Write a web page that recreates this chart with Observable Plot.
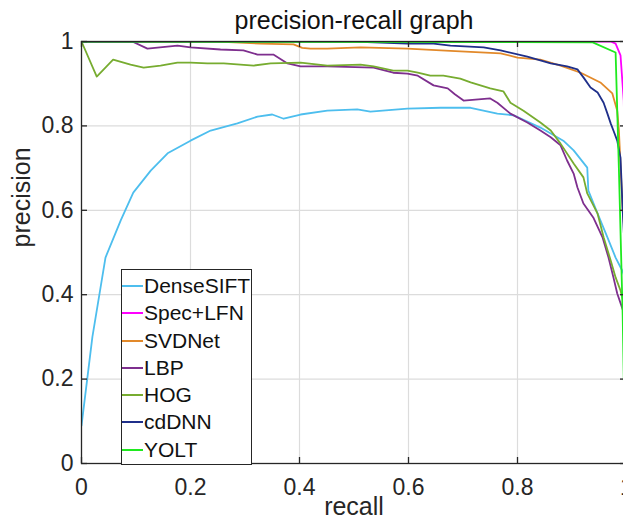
<!DOCTYPE html>
<html>
<head>
<meta charset="utf-8">
<script src="https://cdn.jsdelivr.net/npm/d3@7"></script>
<script src="https://cdn.jsdelivr.net/npm/@observablehq/plot@0.6"></script>
<style>
  body { margin: 0; background: #fff; }
  #wrap { position: relative; width: 623px; height: 519px; overflow: hidden; font-family: "Liberation Sans", Arial, sans-serif; }
  #legend { position: absolute; left: 121px; top: 269px; width: 129px; height: 192px; border: 1px solid #262626; background: #fff; padding-top: 2px; box-sizing: content-box; }
  #legend .row { height: 27.3px; line-height: 27.3px; font-size: 21px; color: #111; white-space: nowrap; }
  #legend .swatch { display: inline-block; width: 21px; height: 0; border-top: 2px solid; vertical-align: 6px; margin-right: 1px; }
</style>
</head>
<body>
<div id="wrap"><div id="chart"></div><div id="legend"></div></div>
<script>
// ---- data ----
const methods = ["DenseSIFT", "Spec+LFN", "SVDNet", "LBP", "HOG", "cdDNN", "YOLT"];
const colors  = ["#4DBEEE", "#FF00FF", "#E2892A", "#7E2F8E", "#77AC30", "#1F2F8A", "#1FEA1F"];

const denseR = [0, 0.02, 0.044, 0.072, 0.095, 0.127, 0.158, 0.2, 0.237, 0.286, 0.323, 0.35, 0.371, 0.402, 0.451, 0.506, 0.53, 0.598, 0.659, 0.714, 0.763, 0.793, 0.842, 0.884, 0.903, 0.928, 0.93, 0.947, 0.965, 0.98, 0.993, 1.0];
const denseP = [0.09, 0.30, 0.488, 0.576, 0.642, 0.694, 0.735, 0.765, 0.789, 0.806, 0.822, 0.827, 0.817, 0.827, 0.836, 0.839, 0.834, 0.841, 0.843, 0.843, 0.829, 0.825, 0.796, 0.765, 0.742, 0.701, 0.647, 0.592, 0.536, 0.488, 0.455, 0.43];

const specR = [0, 0.971, 0.98, 0.989, 0.995, 1.0];
const specP = [1, 1, 0.995, 0.967, 0.86, 0.5];

const svdR = [0, 0.25, 0.328, 0.389, 0.405, 0.42, 0.451, 0.512, 0.598, 0.677, 0.769, 0.80, 0.842, 0.879, 0.916, 0.952, 0.974, 0.983, 0.986, 0.99, 0.993, 1.0];
const svdP = [1, 1, 0.995, 0.993, 0.985, 0.983, 0.983, 0.986, 0.983, 0.978, 0.972, 0.962, 0.957, 0.943, 0.926, 0.903, 0.877, 0.836, 0.79, 0.68, 0.6, 0.5];

const lbpR = [0, 0.093, 0.121, 0.176, 0.2, 0.255, 0.297, 0.323, 0.352, 0.378, 0.402, 0.451, 0.536, 0.572, 0.598, 0.617, 0.646, 0.672, 0.685, 0.701, 0.75, 0.763, 0.787, 0.818, 0.842, 0.861, 0.879, 0.891, 0.903, 0.91, 0.921, 0.939, 0.956, 0.967, 0.976, 0.983, 0.993];
const lbpP = [1, 1, 0.983, 0.99, 0.986, 0.981, 0.979, 0.969, 0.969, 0.948, 0.941, 0.941, 0.938, 0.926, 0.924, 0.919, 0.896, 0.889, 0.875, 0.86, 0.865, 0.855, 0.829, 0.808, 0.789, 0.773, 0.754, 0.718, 0.687, 0.654, 0.616, 0.583, 0.536, 0.488, 0.441, 0.403, 0.365];

const hogR = [0, 0.028, 0.058, 0.09, 0.114, 0.145, 0.176, 0.2, 0.231, 0.261, 0.316, 0.347, 0.402, 0.451, 0.512, 0.536, 0.572, 0.598, 0.617, 0.64, 0.664, 0.695, 0.714, 0.75, 0.774, 0.787, 0.811, 0.842, 0.861, 0.879, 0.903, 0.921, 0.928, 0.947, 0.958, 0.971, 0.98, 0.989, 0.995];
const hogP = [1, 0.917, 0.957, 0.945, 0.938, 0.943, 0.95, 0.95, 0.948, 0.948, 0.943, 0.948, 0.95, 0.943, 0.945, 0.941, 0.931, 0.931, 0.926, 0.919, 0.919, 0.912, 0.903, 0.889, 0.882, 0.855, 0.836, 0.808, 0.789, 0.758, 0.711, 0.678, 0.64, 0.592, 0.536, 0.481, 0.441, 0.41, 0.38];

const cdR = [0, 0.5, 0.598, 0.646, 0.677, 0.738, 0.769, 0.818, 0.861, 0.891, 0.91, 0.921, 0.934, 0.947, 0.958, 0.965, 0.971, 0.976, 0.983, 0.989, 0.993, 0.997];
const cdP = [1, 1, 0.995, 0.995, 0.99, 0.986, 0.979, 0.964, 0.948, 0.941, 0.934, 0.915, 0.891, 0.879, 0.855, 0.829, 0.806, 0.789, 0.765, 0.725, 0.6, 0.5];

const yoltR = [0, 0.938, 0.98, 0.986, 0.993, 0.995, 1.0];
const yoltP = [1, 0.998, 0.974, 0.7, 0.35, 0.2, 0.1];

const xTicks = [0, 0.2, 0.4, 0.6, 0.8, 1];
const yTicks = [0, 0.2, 0.4, 0.6, 0.8, 1];
const gridTicks = [0.2, 0.4, 0.6, 0.8];

// ---- table built from arrays ----
const seriesR = [denseR, specR, svdR, lbpR, hogR, cdR, yoltR];
const seriesP = [denseP, specP, svdP, lbpP, hogP, cdP, yoltP];
const rows = [];
methods.forEach((m, i) => seriesR[i].forEach((r, j) => rows.push({method: m, recall: r, precision: seriesP[i][j]})));

const W = 623, H = 519, ML = 81, MR = -3, MT = 41, MB = 56;
const frameW = W - ML - MR, frameH = H - MT - MB;
const tickLen = 6;
const dark = "#262626";

const chart = Plot.plot({
  width: W, height: H,
  marginLeft: ML, marginRight: MR, marginTop: MT, marginBottom: MB,
  style: {fontFamily: '"Liberation Sans", Arial, sans-serif', fontSize: "23px", color: dark, background: "#fff"},
  x: {domain: [0, 1]},
  y: {domain: [0, 1]},
  color: {domain: methods, range: colors},
  marks: [
    Plot.gridX(gridTicks, {stroke: "#dcdcdc", strokeOpacity: 1, strokeWidth: 1.2}),
    Plot.gridY(gridTicks, {stroke: "#dcdcdc", strokeOpacity: 1, strokeWidth: 1.2}),
    Plot.line(rows, {x: "recall", y: "precision", z: "method", stroke: "method", strokeWidth: 1.8, clip: true}),
    Plot.frame({stroke: dark, strokeWidth: 1.3}),
    Plot.tickY(yTicks, {y: d => d, stroke: dark, strokeWidth: 1.3, insetRight: frameW - tickLen}),
    Plot.tickY(yTicks, {y: d => d, stroke: dark, strokeWidth: 1.3, insetLeft: frameW - tickLen}),
    Plot.tickX(xTicks, {x: d => d, stroke: dark, strokeWidth: 1.3, insetBottom: frameH - tickLen}),
    Plot.tickX(xTicks, {x: d => d, stroke: dark, strokeWidth: 1.3, insetTop: frameH - tickLen}),
    Plot.axisX(xTicks, {anchor: "bottom", tickSize: 0, tickPadding: 15, fontSize: 23, label: null, tickFormat: d => String(d)}),
    Plot.axisY(yTicks, {anchor: "left", tickSize: 0, tickPadding: 8, fontSize: 23, label: null, tickFormat: d => String(d)}),
    Plot.text(["precision-recall graph"], {frameAnchor: "top", lineAnchor: "bottom", dy: -13, fontSize: 25, fill: "#111"}),
    Plot.text(["recall"], {frameAnchor: "bottom", lineAnchor: "bottom", dy: 51, fontSize: 25, fill: dark}),
    Plot.text(["precision"], {frameAnchor: "left", lineAnchor: "bottom", rotate: -90, dx: -52, dy: -5, fontSize: 25, fill: dark})
  ]
});
document.getElementById("chart").appendChild(chart);

// ---- legend ----
const legend = document.getElementById("legend");
methods.forEach((m, i) => {
  const row = document.createElement("div");
  row.className = "row";
  const sw = document.createElement("span");
  sw.className = "swatch";
  sw.style.borderTopColor = colors[i];
  row.appendChild(sw);
  row.appendChild(document.createTextNode(m));
  legend.appendChild(row);
});
</script>
</body>
</html>
